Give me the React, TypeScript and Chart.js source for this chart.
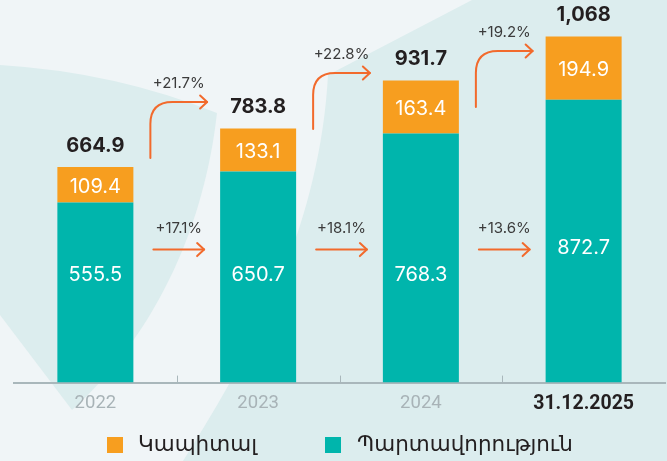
import React, { useEffect, useRef } from "react";
import { Chart, registerables } from "chart.js";

Chart.register(...registerables);

// ---- data ----
const categories = ["2022", "2023", "2024", "31.12.2025"];
const liabilities = [555.5, 650.7, 768.3, 872.7];
const equity = [109.4, 133.1, 163.4, 194.9];
const totalLabels = ["664.9", "783.8", "931.7", "1,068"];
const totalGrowth = ["+21.7%", "+22.8%", "+19.2%"];
const liabilityGrowth = ["+17.1%", "+18.1%", "+13.6%"];
const seriesNames = ["Կապիտալ", "Պարտավորություն"];

// ---- styles ----
const TEAL = "#00b5ac";
const ORANGE = "#f79e1f";
const ARROW = "#f26a2c";
const NUM_FONT = "Inter, 'Open Sans', sans-serif";

const overlayPlugin = {
  id: "overlay",
  beforeDraw(chart: any) {
    const { ctx, width, height } = chart;
    ctx.save();
    ctx.fillStyle = "#f0f5f7";
    ctx.fillRect(0, 0, width, height);
    ctx.fillStyle = "#dcedee";
    // left decorative blob
    ctx.beginPath();
    ctx.moveTo(0, 65);
    ctx.quadraticCurveTo(115, 72, 217, 113);
    ctx.bezierCurveTo(205, 220, 160, 330, 72, 410);
    ctx.lineTo(0, 315);
    ctx.closePath();
    ctx.fill();
    // right decorative area
    ctx.beginPath();
    ctx.moveTo(183, height);
    ctx.bezierCurveTo(260, 340, 320, 220, 328, 75);
    ctx.lineTo(472, 0);
    ctx.lineTo(width, 0);
    ctx.lineTo(width, height);
    ctx.closePath();
    ctx.fill();
    ctx.restore();
  },
  afterDatasetsDraw(chart: any) {
    const { ctx, chartArea } = chart;
    const y = chart.scales.y;
    const tealBars = chart.getDatasetMeta(0).data;
    const orangeBars = chart.getDatasetMeta(1).data;
    const bottom = chartArea.bottom;
    ctx.save();

    // small ticks between categories
    ctx.strokeStyle = "#a9b7bb";
    ctx.lineWidth = 1;
    for (let i = 0; i < tealBars.length - 1; i++) {
      const mx = Math.round((tealBars[i].x + tealBars[i + 1].x) / 2) + 0.5;
      ctx.beginPath();
      ctx.moveTo(mx, bottom - 7);
      ctx.lineTo(mx, bottom);
      ctx.stroke();
    }

    ctx.textAlign = "center";
    ctx.textBaseline = "middle";

    const tealOffsets = [108, 108, 108, 135];
    for (let i = 0; i < tealBars.length; i++) {
      const t = tealBars[i];
      const o = orangeBars[i];
      const total = liabilities[i] + equity[i];
      const top = y.getPixelForValue(total);
      // inner labels
      ctx.fillStyle = "#ffffff";
      ctx.font = `400 20px ${NUM_FONT}`;
      ctx.fillText(String(liabilities[i]), t.x, bottom - tealOffsets[i]);
      ctx.fillText(String(equity[i]), o.x, (o.y + o.base) / 2 + 2);
      // totals
      ctx.fillStyle = "#231f20";
      ctx.font = `700 20px ${NUM_FONT}`;
      ctx.fillText(totalLabels[i], o.x, top - 21.5);
    }

    // arrows
    ctx.strokeStyle = ARROW;
    ctx.lineWidth = 2;
    ctx.lineCap = "round";
    ctx.lineJoin = "round";
    const head = (ex: number, ey: number) => {
      ctx.beginPath();
      ctx.moveTo(ex - 7, ey - 6.5);
      ctx.lineTo(ex, ey);
      ctx.lineTo(ex - 7, ey + 6.5);
      ctx.stroke();
    };
    const upperBottoms = [158, 129, 107];
    for (let i = 0; i < tealBars.length - 1; i++) {
      const w = tealBars[i].width;
      const rightEdge = tealBars[i].x + w / 2;
      const nextLeft = tealBars[i + 1].x - w / 2;
      // lower straight arrow
      const lx0 = rightEdge + 20;
      const lx1 = nextLeft - 16;
      const ly = bottom - 133;
      ctx.beginPath();
      ctx.moveTo(lx0, ly);
      ctx.lineTo(lx1, ly);
      ctx.stroke();
      head(lx1, ly);
      ctx.fillStyle = "#3b3b3b";
      ctx.font = `400 15px ${NUM_FONT}`;
      ctx.fillText(liabilityGrowth[i], (lx0 + lx1) / 2, ly - 21);

      // upper bent arrow
      const vx = rightEdge + 17;
      const ex = nextLeft - 13;
      const by = upperBottoms[i];
      const hy = by - 56;
      const r = 22;
      ctx.beginPath();
      ctx.moveTo(vx, by);
      ctx.lineTo(vx, hy + r);
      ctx.quadraticCurveTo(vx, hy, vx + r, hy);
      ctx.lineTo(ex, hy);
      ctx.stroke();
      head(ex, hy);
      ctx.fillText(totalGrowth[i], (vx + ex) / 2, hy - 19);
    }

    // legend
    const legendY = 445;
    ctx.textAlign = "left";
    ctx.font = "400 21.5px 'DejaVu Sans', sans-serif";
    ctx.fillStyle = ORANGE;
    ctx.fillRect(107, legendY - 8, 16, 16);
    ctx.fillStyle = TEAL;
    ctx.fillRect(325, legendY - 8, 16, 16);
    ctx.fillStyle = "#231f20";
    ctx.fillText(seriesNames[0], 138, legendY);
    ctx.fillText(seriesNames[1], 357, legendY);

    ctx.restore();
  },
};

export default function App() {
  const ref = useRef<HTMLCanvasElement>(null);
  useEffect(() => {
    if (!ref.current) return;
    const chart = new Chart(ref.current, {
      type: "bar",
      data: {
        labels: categories,
        datasets: [
          {
            label: seriesNames[1],
            data: liabilities,
            backgroundColor: TEAL,
            stack: "s",
            categoryPercentage: 0.467,
            barPercentage: 1,
          },
          {
            label: seriesNames[0],
            data: equity,
            backgroundColor: ORANGE,
            stack: "s",
            categoryPercentage: 0.467,
            barPercentage: 1,
          },
        ],
      },
      options: {
        responsive: false,
        animation: false,
        layout: { padding: { left: 14, right: 2, top: 0, bottom: 35 } },
        plugins: { legend: { display: false }, tooltip: { enabled: false } },
        scales: {
          x: {
            stacked: true,
            grid: { display: false, drawTicks: false },
            border: { display: true, color: "#a9b7bb", width: 2 },
            ticks: {
              padding: 10,
              color: (c: any) => (c.index === 3 ? "#231f20" : "#a8b3b7"),
              font: (c: any) =>
                c.index === 3
                  ? { family: "Roboto", size: 19.5, weight: "bold" }
                  : { family: "Roboto", size: 18.5, weight: "normal" },
            },
          },
          y: { stacked: true, display: false, min: 0, max: 1180 },
        },
      },
      plugins: [overlayPlugin],
    });
    return () => chart.destroy();
  }, []);
  return (
    <div style={{ position: "absolute", left: 0, top: 0, width: 667, height: 461 }}>
      <canvas ref={ref} width={667} height={461} />
    </div>
  );
}
